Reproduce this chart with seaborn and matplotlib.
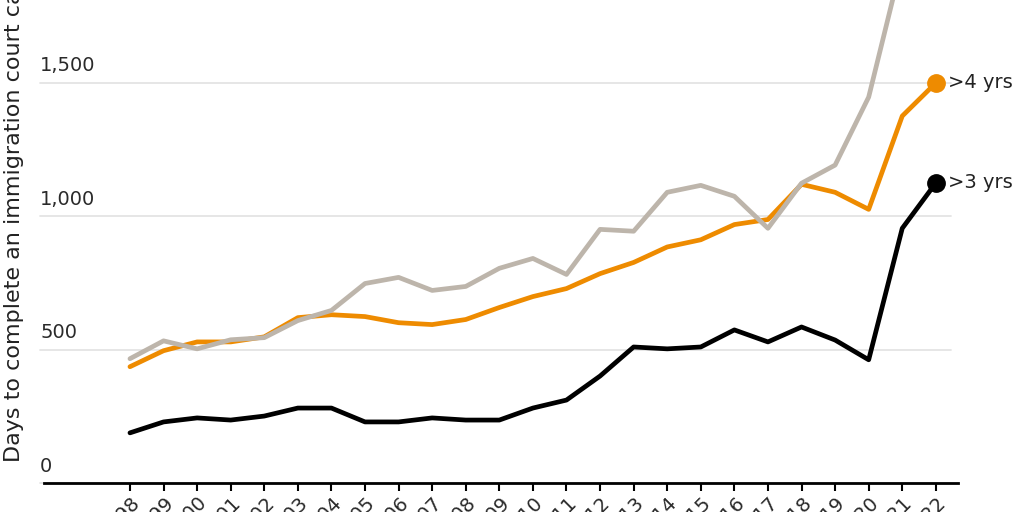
import pandas as pd
import numpy as np
import matplotlib.pyplot as plt
import seaborn as sns

years = list(range(1998, 2023))
year_labels = ["'" + str(y)[2:] for y in years]

# days to complete
over_3yrs = [188, 229, 244, 236, 251, 281, 281, 229, 229, 244, 236, 236, 281, 311,
             401, 510, 503, 510, 574, 529, 585, 536, 462, 955, 1125]
over_4yrs = [436, 496, 529, 529, 548, 620, 631, 624, 601, 594, 613, 658, 699, 729,
             785, 827, 885, 912, 969, 988, 1120, 1090, 1026, 1376, 1500]
other = [466, 533, 503, 537, 545, 609, 647, 748, 771, 722, 737, 805, 842, 782,
         951, 944, 1090, 1116, 1075, 955, 1124, 1192, 1447, 1958, 2200]

series = {
    'other': (other, '#bdb5ab'),
    '>4 yrs': (over_4yrs, '#ee8b00'),
    '>3 yrs': (over_3yrs, '#000000'),
}
draw_order = ['>4 yrs', 'other', '>3 yrs']

sns.set_theme(style='white')
plt.rcParams['font.family'] = ['DejaVu Sans']

fig = plt.figure(figsize=(10.24, 5.12), dpi=100)
ax = fig.add_axes([44 / 1024, 1 - 483 / 512, (958 - 44) / 1024, 483 / 512])

for name in draw_order:
    vals, col = series[name]
    df = pd.DataFrame({'year': years, 'days': vals})
    sns.lineplot(data=df, x='year', y='days', color=col, lw=3.4, ax=ax, zorder=3)

for name in ['>4 yrs', '>3 yrs']:
    vals, col = series[name]
    ax.plot(years[-1], vals[-1], 'o', color=col, ms=12.5, zorder=4, clip_on=False)
    ax.text(years[-1] + 0.35, vals[-1], name, fontsize=14, color='#222222',
            va='center', ha='left', clip_on=False)

ax.set_xlim(1995.44, 2022.66)
ax.set_ylim(0, 1811)

# gridlines with their labels sitting on top
for v in [0, 500, 1000, 1500]:
    ax.axhline(v, xmin=-4 / 914, xmax=1 - 7 / 914, color='#e4e4e4', lw=1.3,
               zorder=1, clip_on=False)
    ax.text(-4 / 914, v + 28, f'{v:,}', transform=ax.get_yaxis_transform(),
            fontsize=14, color='#2a2a2a', ha='left', va='bottom')

ax.set_yticks([])
ax.set_xticks(years)
ax.set_xticklabels(year_labels, rotation=45, ha='right', rotation_mode='anchor',
                   fontsize=14, color='#2a2a2a')
ax.tick_params(axis='x', direction='out', length=6, width=1.5, color='black', pad=1,
               bottom=True)
ax.set_xlabel('')
ax.set_ylabel('')
for s in ['top', 'right', 'left']:
    ax.spines[s].set_visible(False)
ax.spines['bottom'].set_color('black')
ax.spines['bottom'].set_linewidth(2)
ax.patch.set_alpha(0)

fig.text(14 / 1024, 1 - 462 / 512, 'Days to complete an immigration court case',
         rotation=90, rotation_mode='anchor', ha='left', va='center',
         fontsize=16, color='#222222')

fig.savefig('out.png', dpi=100)
